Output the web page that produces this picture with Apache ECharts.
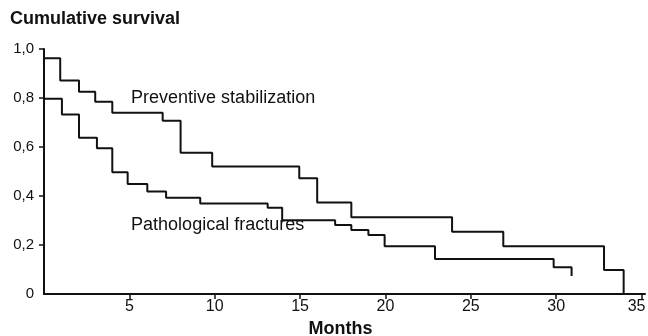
<!DOCTYPE html>
<html>
<head>
<meta charset="utf-8">
<script src="https://cdn.jsdelivr.net/npm/echarts@6/dist/echarts.min.js"></script>
<style>
  html, body { margin: 0; padding: 0; background: #fff; }
  #main { width: 648px; height: 336px; }
</style>
</head>
<body>
<div id="main"></div>
<script>
// Kaplan-Meier steps: [month of event, survival after it]
var preventiveMonths = [0, 0.95, 2.05, 3, 4, 6.95, 8, 9.85, 14.95, 16, 18, 23.9, 26.9, 32.8, 33.95];
var preventiveSurv   = [0.962, 0.871, 0.826, 0.785, 0.740, 0.707, 0.577, 0.520, 0.472, 0.373, 0.313, 0.254, 0.195, 0.098, 0];

var pathologicalMonths = [0, 1.05, 2.05, 3.1, 4, 4.9, 6.05, 7.15, 9.15, 13.1, 13.95, 17.05, 18, 19, 19.95, 22.9, 29.85, 30.9];
var pathologicalSurv   = [0.797, 0.733, 0.638, 0.595, 0.497, 0.449, 0.418, 0.393, 0.369, 0.352, 0.301, 0.282, 0.261, 0.241, 0.195, 0.143, 0.109, 0.073];

var xTicks = [5, 10, 15, 20, 25, 30, 35];
var yTicks = [0, 0.2, 0.4, 0.6, 0.8, 1.0];

var seriesNames = ['Preventive stabilization', 'Pathological fractures'];
// where each curve's name sits, in data units
var nameAnchors = [[5.1, 0.8], [5.1, 0.28]];

function pairs(xs, ys) {
    return xs.map(function (x, i) { return [x, ys[i]]; });
}

var chart = echarts.init(document.getElementById('main'));
var ink = '#111';
var font = 'Liberation Sans, Arial, Helvetica, sans-serif';

var option = {
    animation: false,
    textStyle: { fontFamily: font },
    grid: { left: 44, top: 49, right: 3, bottom: 42, outerBoundsMode: 'none', containLabel: false },
    xAxis: {
        type: 'value',
        min: 0,
        max: 35.2,   // axis line runs a little past the last tick
        name: 'Months',
        nameLocation: 'middle',
        nameGap: 26,
        nameTextStyle: { fontSize: 18, fontWeight: 'bold', color: ink, fontFamily: font, padding: [0, 8, 0, 0] },
        splitLine: { show: false },
        axisLine: { lineStyle: { color: ink, width: 2 } },
        axisTick: { length: 5, customValues: xTicks, lineStyle: { color: ink, width: 1.5 } },
        axisLabel: {
            fontSize: 16, color: ink, margin: 5, customValues: xTicks,
            formatter: function (v) {
                return v === 35 ? '{last|35}' : String(v);
            },
            rich: { last: { fontSize: 16, color: ink, fontFamily: font, padding: [0, 10, 0, 0] } }
        }
    },
    yAxis: {
        type: 'value',
        min: 0,
        max: 1,
        interval: 0.2,
        splitLine: { show: false },
        axisLine: { show: true, lineStyle: { color: ink, width: 2 } },
        axisTick: { show: true, length: 5, customValues: yTicks.slice(1), lineStyle: { color: ink, width: 1.5 } },
        axisLabel: {
            fontSize: 15, color: ink, margin: 10, customValues: yTicks,
            formatter: function (v) {
                return v === 0 ? '0' : v.toFixed(1).replace('.', ',');
            }
        }
    },
    series: [
        {
            name: seriesNames[0],
            type: 'line',
            step: 'end',
            symbol: 'none',
            lineStyle: { color: ink, width: 2 },
            data: pairs(preventiveMonths, preventiveSurv)
        },
        {
            name: seriesNames[1],
            type: 'line',
            step: 'end',
            symbol: 'none',
            lineStyle: { color: ink, width: 2 },
            data: pairs(pathologicalMonths, pathologicalSurv)
        }
    ],
    graphic: [
        {
            type: 'text', left: 10, top: 10,
            style: { text: 'Cumulative survival', fontSize: 18, fontWeight: 'bold', fill: ink, fontFamily: font }
        }
    ]
};

chart.setOption(option);

// curve names placed through the axes' own scales
var labels = nameAnchors.map(function (a, i) {
    var p = chart.convertToPixel({ gridIndex: 0 }, a);
    return {
        type: 'text', x: p[0], y: p[1],
        style: { text: seriesNames[i], fontSize: 18, fill: ink, fontFamily: font, verticalAlign: 'middle' }
    };
});
chart.setOption({ graphic: option.graphic.concat(labels) });
</script>
</body>
</html>
